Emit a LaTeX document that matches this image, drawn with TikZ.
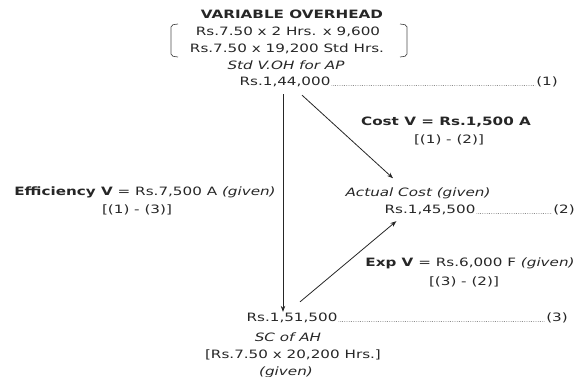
\documentclass[tikz,border=0pt]{standalone}
\usepackage{fontspec}
\setmainfont{DejaVu Sans}[FakeStretch=1.32]
\usetikzlibrary{arrows.meta,calc}
\begin{document}
\begin{tikzpicture}[x=1pt,y=-1pt,
  txt/.style={inner sep=1pt,font=\fontsize{11.5}{13}\selectfont,text=black!85},
  btxt/.style={txt,font=\fontsize{11.5}{13}\selectfont\bfseries},
  itxt/.style={txt,font=\fontsize{11.5}{13}\selectfont\itshape},
  arr/.style={draw=black!85,line width=0.8pt,-{Stealth[length=6pt,width=4.5pt]}},
  dots/.style={draw=black!70,line width=0.5pt,dash pattern=on 0.6pt off 1.2pt},
  brk/.style={draw=black!70,line width=0.7pt,rounded corners=2pt}]
\useasboundingbox (0,0) rectangle (576,377);
\node[btxt] (title) at (292,14) {VARIABLE OVERHEAD};
\node[txt] (l2) at (288,32) {Rs.7.50 x 2 Hrs. x 9,600};
\node[txt] (l3) at (287,49) {Rs.7.50 x 19,200 Std Hrs.};
\draw[brk] (178,24) -- (171,25) -- (171,56) -- (178,57);
\draw[brk] (400,24) -- (407,25) -- (407,56) -- (400,57);
\node[itxt] (std) at (286,65) {Std V.OH for AP};
\node[txt] (A) at (285,82) {Rs.1,44,000};
\node[txt] (n1) at (547,82) {(1)};
\draw[dots] (A.base east) -- (n1.base west);
\node[btxt] (costv) at (446,122) {Cost V = Rs.1,500 A};
\node[txt] (costf) at (449,140) {[(1) - (2)]};
\node[itxt] (act) at (418,193) {Actual Cost (given)};
\node[txt] (B) at (430,210) {Rs.1,45,500};
\node[txt] (n2) at (564,210) {(2)};
\draw[dots] (B.base east) -- (n2.base west);
\node[txt] (eff) at (145,192) {\textbf{Efficiency V} = Rs.7,500 A \textit{(given)}};
\node[txt] (efff) at (137,210) {[(1) - (3)]};
\node[txt] (exp) at (470,263) {\textbf{Exp V} = Rs.6,000 F \textit{(given)}};
\node[txt] (expf) at (464,282) {[(3) - (2)]};
\node[txt] (C) at (292,318) {Rs.1,51,500};
\node[txt] (n3) at (557,318) {(3)};
\draw[dots] (C.base east) -- (n3.base west);
\node[itxt] (sc) at (288,337) {SC of AH};
\node[txt] (scf) at (293,355) {[Rs.7.50 x 20,200 Hrs.]};
\node[itxt] (giv) at (286,372) {(given)};
\draw[arr] ([shift={(-2,6)}]A.south) -- ([xshift=-2pt]A.south |- C.north);
\draw[arr] ([shift={(17,7)}]A.south) -- ([shift={(-25,-8)}]act.north);
\draw[arr] ([shift={(8,-10)}]C.north) -- ([shift={(13,5)}]B.south west);
\end{tikzpicture}
\end{document}
